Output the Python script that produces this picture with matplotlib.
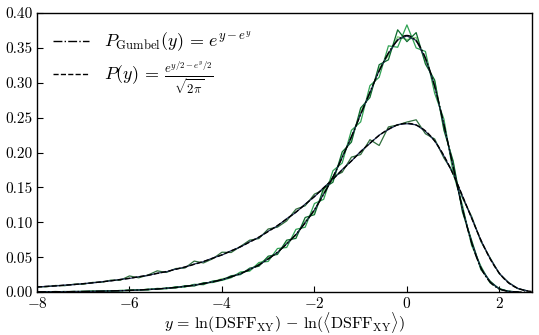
import numpy as np
import matplotlib

matplotlib.use("Agg")
import matplotlib.pyplot as plt

plt.rcParams["font.family"] = "serif"
plt.rcParams["font.serif"] = ["cmr10"]
plt.rcParams["mathtext.fontset"] = "cm"
plt.rcParams["axes.formatter.use_mathtext"] = True

# bin centres of the measured histograms
y_narrow = np.round(np.arange(-8.0, 2.41, 0.2), 1)
y_wide = np.round(np.arange(-8.0, 2.61, 0.2), 1)

# narrow (Gumbel-like) histograms, several samples
narrow_dark = [0.0008, 0.0003, 0.0009, 0.0004, 0.0011, 0.0007, 0.0015, 0.0012, 0.0021, 0.0016,
               0.0031, 0.0026, 0.0044, 0.0039, 0.0062, 0.0058, 0.0093, 0.0087, 0.0135, 0.0138,
               0.0172, 0.0235, 0.0251, 0.0344, 0.0371, 0.0515, 0.0540, 0.0745, 0.0770, 0.1070,
               0.1110, 0.1490, 0.1575, 0.2010, 0.2150, 0.2640, 0.2790, 0.3260, 0.3330, 0.3760,
               0.3590, 0.3720, 0.3270, 0.3040, 0.2320, 0.1880, 0.1150, 0.0741, 0.0322, 0.0158,
               0.0041, 0.0013, 0.0002]
narrow_mid = [0.0002, 0.0007, 0.0004, 0.0009, 0.0005, 0.0012, 0.0009, 0.0017, 0.0013, 0.0025,
              0.0021, 0.0036, 0.0031, 0.0054, 0.0047, 0.0078, 0.0072, 0.0112, 0.0106, 0.0161,
              0.0168, 0.0207, 0.0289, 0.0301, 0.0425, 0.0440, 0.0625, 0.0640, 0.0900, 0.0930,
              0.1270, 0.1330, 0.1740, 0.1850, 0.2320, 0.2440, 0.2960, 0.3080, 0.3530, 0.3510,
              0.3830, 0.3500, 0.3450, 0.2850, 0.2480, 0.1710, 0.1245, 0.0668, 0.0371, 0.0131,
              0.0052, 0.0009, 0.0001]
narrow_light = [0.0005, 0.0001, 0.0006, 0.0008, 0.0003, 0.0010, 0.0013, 0.0010, 0.0019, 0.0022,
                0.0027, 0.0033, 0.0035, 0.0048, 0.0052, 0.0072, 0.0079, 0.0104, 0.0118, 0.0149,
                0.0192, 0.0211, 0.0278, 0.0316, 0.0408, 0.0490, 0.0560, 0.0710, 0.0810, 0.1020,
                0.1150, 0.1440, 0.1610, 0.1960, 0.2190, 0.2590, 0.2830, 0.3210, 0.3390, 0.3660,
                0.3620, 0.3650, 0.3310, 0.3020, 0.2350, 0.1850, 0.1176, 0.0719, 0.0342, 0.0148,
                0.0044, 0.0012, 0.0002]
narrow_navy = [0.0004, 0.0004, 0.0005, 0.0006, 0.0008, 0.0009, 0.0011, 0.0014, 0.0016, 0.0021,
               0.0024, 0.0031, 0.0036, 0.0046, 0.0054, 0.0068, 0.0081, 0.0101, 0.0120, 0.0150,
               0.0178, 0.0221, 0.0263, 0.0326, 0.0388, 0.0478, 0.0568, 0.0693, 0.0824, 0.0997,
               0.1177, 0.1408, 0.1644, 0.1933, 0.2222, 0.2553, 0.2860, 0.3178, 0.3421, 0.3619,
               0.3672, 0.3608, 0.3350, 0.2954, 0.2398, 0.1801, 0.1192, 0.0708, 0.0346, 0.0145,
               0.0045, 0.0011, 0.0002]

# wide histograms
wide_navy = [0.0071, 0.0083, 0.0088, 0.0101, 0.0107, 0.0122, 0.0131, 0.0149, 0.0161, 0.0182,
             0.0196, 0.0221, 0.0238, 0.0271, 0.0292, 0.0330, 0.0357, 0.0402, 0.0436, 0.0489,
             0.0531, 0.0594, 0.0647, 0.0722, 0.0785, 0.0874, 0.0949, 0.1053, 0.1142, 0.1262,
             0.1367, 0.1499, 0.1615, 0.1757, 0.1878, 0.2018, 0.2131, 0.2251, 0.2330, 0.2401,
             0.2414, 0.2398, 0.2305, 0.2170, 0.1950, 0.1694, 0.1376, 0.1061, 0.0742, 0.0479,
             0.0267, 0.0133, 0.0053, 0.0018]
wide_green = [0.0078, 0.0076, 0.0095, 0.0092, 0.0114, 0.0113, 0.0139, 0.0141, 0.0172, 0.0170,
              0.0232, 0.0205, 0.0245, 0.0305, 0.0282, 0.0338, 0.0346, 0.0445, 0.0418, 0.0478,
              0.0572, 0.0568, 0.0655, 0.0745, 0.0768, 0.0905, 0.0931, 0.1021, 0.1189, 0.1238,
              0.1405, 0.1468, 0.1652, 0.1718, 0.1935, 0.1972, 0.2185, 0.2102, 0.2368, 0.2395,
              0.2438, 0.2470, 0.2270, 0.2195, 0.1922, 0.1718, 0.1352, 0.1085, 0.0725, 0.0490,
              0.0262, 0.0138, 0.0050, 0.0019]

fig = plt.figure(figsize=(5.39, 3.35), dpi=100)
ax = fig.add_axes([0.0686, 0.128, 0.918, 0.833])

ax.plot(y_wide, wide_green, color="#2f6e3c", lw=0.9)
ax.plot(y_wide, wide_navy, color="#1d2b52", lw=0.9)
ax.plot(y_narrow, narrow_light, color="#7fcf7a", lw=0.9)
ax.plot(y_narrow, narrow_mid, color="#31a354", lw=0.9)
ax.plot(y_narrow, narrow_dark, color="#0b6a2c", lw=0.9)
ax.plot(y_narrow, narrow_navy, color="#1d2b52", lw=0.9)

# analytic curves
y = np.linspace(-8.0, 2.7, 600)
gumbel = np.exp(y - np.exp(y))
p_half = np.exp(y / 2 - np.exp(y) / 2) / np.sqrt(2 * np.pi)
ax.plot(y, gumbel, color="black", lw=1.0, ls="-.",
        label=r"$P_{\rm Gumbel}(y)\, =\, e^{y - e^{y}}$")
ax.plot(y, p_half, color="black", lw=1.0, ls="--",
        label=r"$P(y)\, =\, \frac{e^{y/2 - e^{y}/2}}{\sqrt{2\pi}}$")

ax.set_xlim(-8, 2.7)
ax.set_ylim(0, 0.40)
ax.set_xticks([-8, -6, -4, -2, 0, 2])
ax.set_yticks(np.arange(0, 0.41, 0.05))
ax.yaxis.set_major_formatter(matplotlib.ticker.FormatStrFormatter("%.2f"))
ax.tick_params(direction="in", labelsize=11, length=4, width=0.8, pad=3)
for s in ax.spines.values():
    s.set_linewidth(1.0)
ax.set_xlabel(r"$y\, =\, \ln(\mathrm{DSFF}_{\mathrm{XY}})\, -\, \ln(\langle \mathrm{DSFF}_{\mathrm{XY}} \rangle)$",
              fontsize=11.5, labelpad=-1)

ax.legend(loc="upper left", frameon=False, fontsize=13, handlelength=2.0,
          handletextpad=0.8, borderaxespad=0.5, labelspacing=0.35)

fig.savefig("out.png", dpi=100, facecolor="white")
